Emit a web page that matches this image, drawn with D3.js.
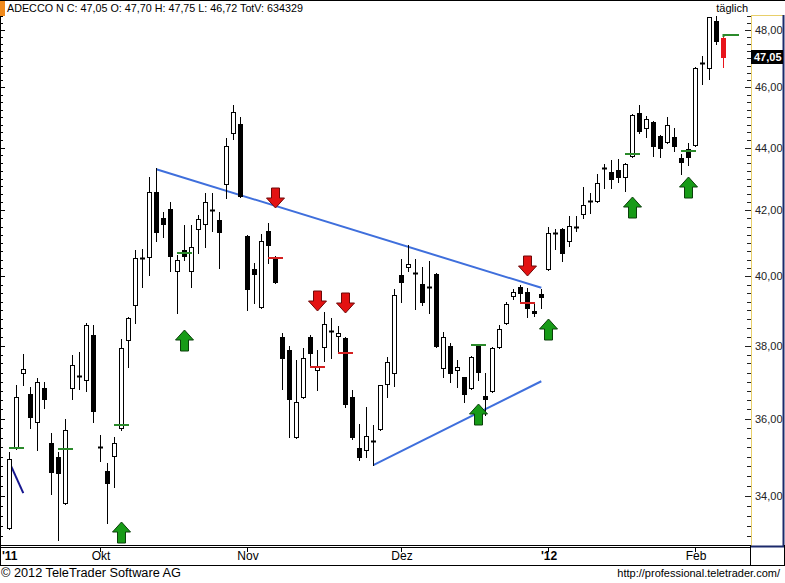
<!DOCTYPE html>
<html>
<head>
<meta charset="utf-8">
<script src="https://cdn.jsdelivr.net/npm/d3@7"></script>
<style>
  body { margin: 0; background: #fff; }
  svg text { font-family: "Liberation Sans", Arial, sans-serif; }
</style>
</head>
<body>
<div id="chart"></div>
<script>
// ADECCO N daily, 14.09.2011 - 07.02.2012 (one entry per trading day)
var opens = [33.20,35.22,37.24,36.66,35.91,36.82,35.36,34.99,33.83,36.82,37.15,37.04,38.30,35.25,34.63,35.01,35.75,38.16,39.16,40.55,
  40.58,42.58,41.76,42.04,40.16,40.79,40.16,41.43,41.58,42.01,41.70,42.83,44.48,44.78,41.21,40.22,39.10,41.37,40.55,38.24,
  37.88,35.52,36.58,38.24,37.32,37.96,38.41,38.27,38.21,36.58,35.22,35.17,35.41,35.73,36.93,37.24,40.04,40.28,40.10,39.77,
  39.69,40.07,37.38,37.99,37.32,37.12,36.82,38.02,36.61,36.74,37.96,38.64,39.42,39.69,39.54,38.98,39.48,40.22,41.30,41.43,
  41.06,41.49,41.89,42.26,42.29,43.34,43.21,43.27,43.05,43.72,45.14,44.65,44.84,44.38,44.18,44.35,43.66,43.95,44.08,46.84,
  46.67,48.32,47.70];
var highs = [35.12,36.90,37.77,36.85,37.10,36.99,35.62,35.12,35.99,37.74,37.82,38.64,38.59,35.57,34.84,35.52,38.19,38.81,40.79,40.82,
  43.05,43.34,41.95,42.26,40.64,41.55,41.55,41.86,42.54,42.54,41.95,44.32,45.41,45.01,41.23,40.40,41.28,41.61,40.61,38.35,
  37.99,37.60,37.94,38.30,37.88,38.95,38.79,38.55,38.23,36.77,35.86,36.31,35.83,36.92,37.68,39.63,40.52,40.94,40.52,40.28,
  40.46,40.09,38.38,38.07,37.60,37.14,37.70,38.04,37.24,37.96,38.59,39.24,39.63,39.74,39.66,39.21,39.63,41.49,41.43,41.45,
  41.83,41.83,42.74,42.54,43.14,43.47,43.60,43.63,43.50,45.10,45.41,45.04,44.86,44.40,45.01,44.65,43.79,44.15,46.69,47.08,
  48.48,48.50,47.75];
var lows = [33.18,35.20,36.90,35.75,35.17,36.28,34.05,32.91,33.80,36.53,36.80,36.74,35.91,34.88,33.33,34.23,35.70,37.40,38.64,39.69,
  40.04,41.06,41.18,40.16,38.93,40.49,39.69,40.70,40.88,41.37,40.25,42.38,44.28,42.42,39.01,39.21,39.07,40.40,39.80,36.80,
  35.52,35.50,36.55,37.40,36.77,37.57,37.66,37.80,36.31,35.47,34.91,34.99,34.78,35.70,36.58,36.88,39.24,40.16,39.04,39.16,
  38.93,37.97,37.12,36.99,36.85,36.45,36.80,37.04,36.10,36.72,37.94,38.62,39.33,39.21,38.81,38.84,39.07,40.19,40.82,40.46,
  40.91,41.37,41.76,41.92,42.26,42.70,42.70,42.90,42.61,43.69,44.48,44.35,43.72,43.69,44.15,43.89,43.14,43.44,44.06,46.12,
  46.29,47.51,46.72];
var closes = [34.94,36.58,37.35,36.04,36.99,36.53,34.61,34.58,35.70,37.46,37.15,38.59,36.20,35.25,34.33,35.36,37.94,38.79,40.55,40.55,
  42.58,41.34,41.58,40.61,40.49,40.61,40.88,41.73,42.26,42.01,41.34,44.05,45.17,42.45,39.63,40.07,41.06,40.94,39.83,37.66,
  36.53,36.45,37.66,37.80,37.43,38.61,38.41,38.35,36.39,35.52,34.99,35.54,35.41,36.90,37.54,39.45,39.83,40.37,40.10,39.24,
  39.69,37.99,38.24,37.24,37.40,36.66,37.68,37.27,36.53,37.94,38.47,39.18,39.54,39.51,39.07,38.93,39.39,41.31,41.26,40.70,
  41.52,41.49,42.17,42.30,42.86,43.34,42.99,43.05,43.47,45.08,44.55,44.94,44.05,43.99,44.74,44.05,43.53,43.69,46.67,46.84,
  48.46,47.61,47.05];

var monthLabels = ["'11", "Okt", "Nov", "Dez", "'12", "Feb"];
var monthIdx = [0, 13, 34, 56, 77, 98];

var yTicks = [34, 36, 38, 40, 42, 44, 46, 48];

// signals: candle index + arrow tip price / marker price
var buyIdx = [16, 25, 67, 77, 89, 97];
var buyTip = [33.35, 38.44, 36.39, 38.76, 42.42, 43.05];
var sellIdx = [38, 44, 48, 74];
var sellTip = [42.07, 38.98, 38.93, 40.01];
var greenMarkIdx = [1, 8, 16, 25, 67, 89, 97];
var greenMarkVal = [35.22, 35.20, 35.83, 40.70, 38.02, 43.79, 43.89];
var redMarkIdx = [38, 44, 48, 74];
var redMarkVal = [40.55, 37.40, 37.80, 39.21];

// trend lines [idx, price]
var trendDown = [[21, 43.30], [76, 39.66]];
var trendUp = [[52, 34.78], [76, 37.01]];
var trendShort = [[0, 34.86], [2, 34.07]];

var lastPrice = 47.05;

var svg = d3.select("#chart")
  .append("svg")
    .attr("width", 785)
    .attr("height", 583);

var x = d3.scaleLinear().domain([0, 102]).range([9.3, 723.3]);
var y = d3.scaleLog().domain([32.785, 48.536]).range([545, 15]);
function px(i) { return Math.round(x(i)); }
function py(v) { return Math.round(y(v)); }

svg.append("rect").attr("width", 785).attr("height", 583).attr("fill", "#fff");

svg.append("clipPath").attr("id", "plotclip")
  .append("rect").attr("x", 1).attr("y", 0).attr("width", 749).attr("height", 545);

var plot = svg.append("g").attr("clip-path", "url(#plotclip)");

// frame
svg.append("line").attr("x1", 0).attr("x2", 785).attr("y1", 0.5).attr("y2", 0.5).attr("stroke", "#000");
svg.append("line").attr("x1", 0.5).attr("x2", 0.5).attr("y1", 0).attr("y2", 566).attr("stroke", "#000");

// left edge ticks
var allTicks = d3.range(33, 48.51, 0.25);
svg.append("g").selectAll("line").data(allTicks).enter().append("line")
  .attr("x1", 0).attr("x2", function(d) { return d % 2 === 0 ? 5 : 3; })
  .attr("y1", function(d) { return py(d) + 0.5; })
  .attr("y2", function(d) { return py(d) + 0.5; })
  .attr("stroke", "#000");

// trend lines
function tline(pts, color) {
  plot.append("line")
    .attr("x1", x(pts[0][0])).attr("y1", y(pts[0][1]))
    .attr("x2", x(pts[1][0])).attr("y2", y(pts[1][1]))
    .attr("stroke", color).attr("stroke-width", 2);
}
tline(trendDown, "#3f6fdc");
tline(trendUp, "#3f6fdc");
tline(trendShort, "#16168f");

// candles
var idx = d3.range(opens.length);
var candles = plot.append("g").selectAll("g").data(idx).enter().append("g");

candles.append("line")
  .attr("x1", function(i) { return px(i) + 0.5; })
  .attr("x2", function(i) { return px(i) + 0.5; })
  .attr("y1", function(i) { return py(highs[i]); })
  .attr("y2", function(i) { return py(lows[i]) + 1; })
  .attr("stroke", function(i) { return i === 102 ? "#e8141b" : "#000"; });

candles.each(function(i) {
  var g = d3.select(this);
  var top = py(Math.max(opens[i], closes[i]));
  var bot = py(Math.min(opens[i], closes[i]));
  var cx = px(i);
  if (bot - top <= 1) {
    g.append("line")
      .attr("x1", cx - 2).attr("x2", cx + 3)
      .attr("y1", top + 0.5).attr("y2", top + 0.5)
      .attr("stroke", "#000").attr("stroke-width", 2);
  } else {
    var fill = closes[i] > opens[i] ? "#fff" : "#000";
    var stroke = "#000";
    if (i === 102) { fill = "#e8141b"; stroke = "#e8141b"; }
    g.append("rect")
      .attr("x", cx - 1.5).attr("y", top + 0.5)
      .attr("width", 4).attr("height", bot - top)
      .attr("fill", fill).attr("stroke", stroke);
  }
});

// markers
plot.append("g").selectAll("line").data(greenMarkIdx).enter().append("line")
  .attr("x1", function(d) { return px(d) - 7; })
  .attr("x2", function(d) { return px(d) + 8; })
  .attr("y1", function(d, k) { return py(greenMarkVal[k]); })
  .attr("y2", function(d, k) { return py(greenMarkVal[k]); })
  .attr("stroke", "#2b8a2b").attr("stroke-width", 2);

plot.append("g").selectAll("line").data(redMarkIdx).enter().append("line")
  .attr("x1", function(d) { return px(d) - 7; })
  .attr("x2", function(d) { return px(d) + 8; })
  .attr("y1", function(d, k) { return py(redMarkVal[k]); })
  .attr("y2", function(d, k) { return py(redMarkVal[k]); })
  .attr("stroke", "#d42020").attr("stroke-width", 2);

// last price marker
plot.append("path")
  .attr("d", "M" + (px(102) + 0.5) + "," + py(highs[102]) + "V" + py(47.82) + "H" + (px(102) + 16))
  .attr("fill", "none").attr("stroke", "#2b8a2b").attr("stroke-width", 2);

// arrows
function upArrow(cx, ty) {
  return [[cx, ty], [cx + 9, ty + 10], [cx + 4, ty + 10], [cx + 4, ty + 21], [cx - 4, ty + 21], [cx - 4, ty + 10], [cx - 9, ty + 10]]
    .map(function(p) { return p.join(","); }).join(" ");
}
function downArrow(cx, by) {
  return [[cx, by], [cx + 9, by - 10], [cx + 4, by - 10], [cx + 4, by - 20], [cx - 4, by - 20], [cx - 4, by - 10], [cx - 9, by - 10]]
    .map(function(p) { return p.join(","); }).join(" ");
}
plot.append("g").selectAll("polygon").data(buyIdx).enter().append("polygon")
  .attr("points", function(d, k) { return upArrow(px(d) + 0.5, py(buyTip[k])); })
  .attr("fill", "#179b17").attr("stroke", "#0a3f0a");

plot.append("g").selectAll("polygon").data(sellIdx).enter().append("polygon")
  .attr("points", function(d, k) { return downArrow(px(d) + 0.5, py(sellTip[k])); })
  .attr("fill", "#e31212").attr("stroke", "#6e0808");

// y axis panel
svg.append("line").attr("x1", 751.5).attr("x2", 751.5).attr("y1", 15).attr("y2", 546).attr("stroke", "#e8cf6a");
svg.append("line").attr("x1", 751).attr("x2", 784).attr("y1", 15.5).attr("y2", 15.5).attr("stroke", "#e8cf6a");
svg.append("line").attr("x1", 783.5).attr("x2", 783.5).attr("y1", 15).attr("y2", 547).attr("stroke", "#1c2a6b").attr("stroke-width", 2);
svg.append("line").attr("x1", 751).attr("x2", 785).attr("y1", 546.5).attr("y2", 546.5).attr("stroke", "#1c2a6b").attr("stroke-width", 2);

svg.append("g").selectAll("line").data(allTicks).enter().append("line")
  .attr("x1", function(d) { return d % 2 === 0 ? 745 : 747; }).attr("x2", 751)
  .attr("y1", function(d) { return py(d) + 0.5; })
  .attr("y2", function(d) { return py(d) + 0.5; })
  .attr("stroke", "#222");

svg.append("g").selectAll("text").data(yTicks).enter().append("text")
  .attr("x", 755).attr("y", function(d) { return py(d); }).attr("dy", "0.36em")
  .attr("font-size", 11).attr("fill", "#222")
  .text(function(d) { return d.toFixed(2).replace(".", ","); });

svg.append("rect").attr("x", 751).attr("y", py(lastPrice) - 7).attr("width", 32).attr("height", 14).attr("fill", "#000");
svg.append("text").attr("x", 754).attr("y", py(lastPrice)).attr("dy", "0.36em")
  .attr("font-size", 11).attr("font-weight", "bold").attr("fill", "#fff")
  .text(lastPrice.toFixed(2).replace(".", ","));

// date band
svg.append("line").attr("x1", 0).attr("x2", 751).attr("y1", 545.5).attr("y2", 545.5).attr("stroke", "#000");
svg.append("line").attr("x1", 0).attr("x2", 751).attr("y1", 547.5).attr("y2", 547.5).attr("stroke", "#000");
svg.append("line").attr("x1", 0).attr("x2", 785).attr("y1", 565.5).attr("y2", 565.5).attr("stroke", "#000");
svg.append("line").attr("x1", 750.5).attr("x2", 750.5).attr("y1", 545).attr("y2", 566).attr("stroke", "#000");
svg.append("line").attr("x1", 784.5).attr("x2", 784.5).attr("y1", 545).attr("y2", 566).attr("stroke", "#000");

svg.append("g").selectAll("line").data(monthIdx.slice(1)).enter().append("line")
  .attr("x1", function(d) { return px(d) + 0.5; }).attr("x2", function(d) { return px(d) + 0.5; })
  .attr("y1", 548).attr("y2", 552).attr("stroke", "#000");

svg.append("g").selectAll("text").data(monthLabels).enter().append("text")
  .attr("x", function(d, k) { return k === 0 ? 2 : px(monthIdx[k]) + 1; })
  .attr("y", 560)
  .attr("text-anchor", function(d, k) { return k === 0 ? "start" : "middle"; })
  .attr("font-size", 12)
  .attr("font-weight", function(d) { return d.charAt(0) === "'" ? "bold" : "normal"; })
  .text(function(d) { return d; });

// header & footer
svg.append("rect").attr("x", 0).attr("y", 1).attr("width", 5).attr("height", 15).attr("fill", "#f08a1c");
svg.append("text").attr("x", 7).attr("y", 12).attr("font-size", 11)
  .attr("textLength", 296).attr("lengthAdjust", "spacingAndGlyphs")
  .text("ADECCO N C: 47,05 O: 47,70 H: 47,75 L: 46,72 TotV: 634329");
svg.append("text").attr("x", 748).attr("y", 12).attr("font-size", 11).attr("text-anchor", "end").text("täglich");

svg.append("text").attr("x", 1).attr("y", 577).attr("font-size", 12)
  .attr("textLength", 180).attr("lengthAdjust", "spacingAndGlyphs")
  .text("© 2012 TeleTrader Software AG");
svg.append("text").attr("x", 780).attr("y", 577).attr("font-size", 11)
  .attr("text-anchor", "end")
  .text("http://professional.teletrader.com/");
</script>
</body>
</html>
